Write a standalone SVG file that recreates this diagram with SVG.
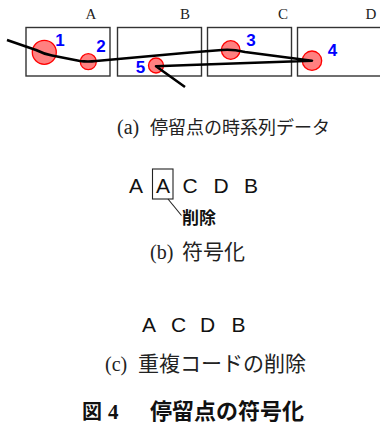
<svg xmlns="http://www.w3.org/2000/svg" width="380" height="432" viewBox="0 0 380 432">
<style>
.box{fill:#fff;stroke:#333;stroke-width:1.4}
.lbl{font-family:"Liberation Serif",serif;font-size:15px;fill:#222;text-anchor:middle}
.st{fill:#ff8080;stroke:#ff0000;stroke-width:1.3}
.num{font-family:"Liberation Sans",Arial,sans-serif;font-weight:bold;font-size:17px;fill:#0000ff;text-anchor:middle}
.path{fill:none;stroke:#000;stroke-width:2.6;stroke-linejoin:round;stroke-linecap:butt}
.cap{font-family:"Liberation Serif","Noto Sans CJK JP",serif;font-size:20px;fill:#222}
.code{font-family:"Liberation Sans",Arial,sans-serif;font-size:21px;fill:#111;text-anchor:middle}
.del{font-family:"Noto Sans CJK JP",sans-serif;font-size:17px;font-weight:bold;fill:#111}
.title{font-family:"Noto Sans CJK JP",sans-serif;font-size:22px;font-weight:bold;fill:#111}
</style>
<g id="panel-a">
  <g id="region-A"><rect class="box" x="26" y="27.5" width="84" height="48.5"/><text class="lbl" x="91" y="19">A</text></g>
  <g id="region-B"><rect class="box" x="117.5" y="27.5" width="84" height="48.5"/><text class="lbl" x="185" y="19">B</text></g>
  <g id="region-C"><rect class="box" x="207.5" y="27.5" width="84" height="48.5"/><text class="lbl" x="283" y="19">C</text></g>
  <g id="region-D"><rect class="box" x="297.5" y="27.5" width="90" height="48.5"/><text class="lbl" x="371" y="19">D</text></g>
  <g id="stop-1"><circle class="st" cx="44.3" cy="52.3" r="12"/><text class="num" x="60" y="46">1</text></g>
  <g id="stop-2"><circle class="st" cx="88.3" cy="61.7" r="8"/><text class="num" x="101" y="52">2</text></g>
  <g id="stop-3"><circle class="st" cx="230.7" cy="50" r="9.3"/><text class="num" x="251" y="46">3</text></g>
  <g id="stop-4"><circle class="st" cx="312" cy="60.7" r="9.7"/><text class="num" x="332.5" y="55.5">4</text></g>
  <g id="stop-5"><circle class="st" cx="156" cy="65.5" r="7.5"/><text class="num" x="140.5" y="73">5</text></g>
  <g id="connectors">
    <path class="path" d="M7,40 L36,50 Q44,54 52,55.5 L80,61 Q88,62 96,61 L190,52.5 L222,50 Q232,49 245,52 L312,60.7 L190,65 L156,66.2 L185,87"/>
  </g>
  <text class="cap" y="134"><tspan x="117">(a)</tspan><tspan x="150" font-size="18">停留点の時系列データ</tspan></text>
</g>
<g id="panel-b">
  <text class="code" x="136" y="193">A</text>
  <g id="deleted-A">
    <rect x="152.5" y="169" width="20.5" height="30" fill="none" stroke="#222" stroke-width="1.1"/>
    <text class="code" x="163" y="193">A</text>
  </g>
  <text class="code" x="190" y="193">C</text>
  <text class="code" x="221" y="193">D</text>
  <text class="code" x="251" y="193">B</text>
  <g id="connectors-b"><line x1="168" y1="199" x2="181.5" y2="215.5" stroke="#222" stroke-width="1.1"/></g>
  <text class="del" x="182" y="224">削除</text>
  <text class="cap" y="259"><tspan x="150">(b)</tspan><tspan x="182" font-size="21">符号化</tspan></text>
</g>
<g id="panel-c">
  <text class="code" x="149" y="332">A</text>
  <text class="code" x="178.5" y="332">C</text>
  <text class="code" x="207.5" y="332">D</text>
  <text class="code" x="238.5" y="332">B</text>
  <text class="cap" y="371"><tspan x="105">(c)</tspan><tspan x="138" font-size="21">重複コードの削除</tspan></text>
</g>
<text class="title" y="419"><tspan x="82" font-size="20">図</tspan><tspan x="108" font-family="Liberation Serif,serif" font-size="21">4</tspan><tspan x="150">停留点の符号化</tspan></text>
</svg>
